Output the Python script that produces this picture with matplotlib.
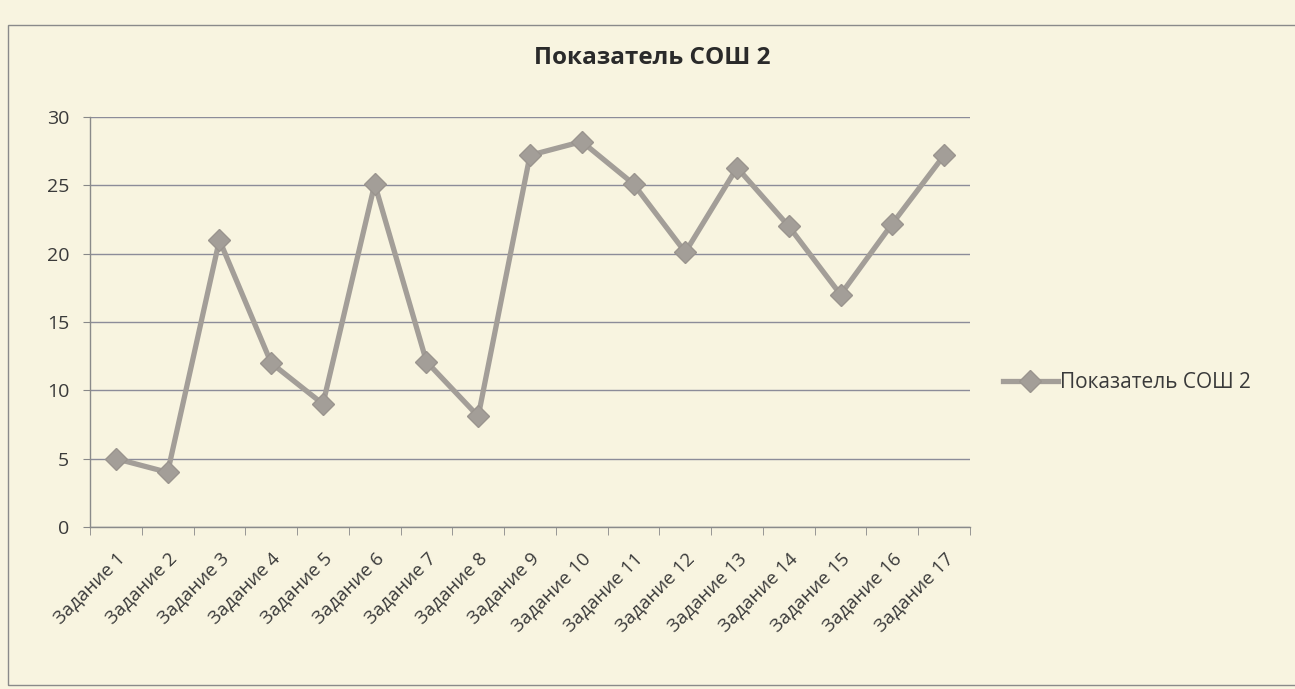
import matplotlib.pyplot as plt
from matplotlib.patches import Rectangle

# Data
tasks = ['Задание ' + str(i) for i in range(1, 18)]
scores = [5, 4, 21, 12, 9, 25.1, 12.1, 8.1, 27.2, 28.2, 25.1, 20.1, 26.3, 22, 17, 22.2, 27.2]
yticks = [0, 5, 10, 15, 20, 25, 30]

title = 'Показатель СОШ 2'
bg = '#f8f4e0'
line_col = '#a39e98'
grid_col = '#8c8c99'
text_col = '#3a3a3a'

plt.rcParams['font.family'] = ['Open Sans', 'DejaVu Sans']

fig = plt.figure(figsize=(12.95, 6.89), dpi=100, facecolor=bg)
ax = fig.add_axes([90 / 1295, 1 - 527 / 689, 880 / 1295, 410 / 689])
ax.set_facecolor(bg)

x = list(range(len(tasks)))
ax.plot(x, scores, color=line_col, lw=3.8, marker='D', markersize=11,
        markerfacecolor=line_col, markeredgecolor='#9a948e', label=title)

ax.set_xlim(-0.5, len(tasks) - 0.5)
ax.set_ylim(0, 30)
ax.set_yticks(yticks)
ax.set_xticks(x)
ax.set_xticklabels(tasks, rotation=45, ha='right', rotation_mode='anchor',
                   fontsize=13.5, color=text_col)
ax.set_xticks([i - 0.5 for i in range(len(tasks) + 1)], minor=True)
ax.tick_params(axis='x', which='major', length=0, pad=16)
ax.tick_params(axis='x', which='minor', length=6, color='#888888', direction='out')
ax.tick_params(axis='y', length=5, color='#888888', labelsize=14,
               labelcolor=text_col, pad=10)

ax.grid(axis='y', color=grid_col, lw=1.0)
ax.set_axisbelow(True)
for s in ['top', 'right']:
    ax.spines[s].set_visible(False)
for s in ['left', 'bottom']:
    ax.spines[s].set_color('#8a8a8a')
    ax.spines[s].set_linewidth(1.0)

fig.text(652 / 1295, 1 - 58 / 689, title, ha='center', va='center',
         fontsize=17.5, fontweight='bold', color='#2a2a2a')

fig.legend(loc='center left', bbox_to_anchor=(995 / 1295, 1 - 383 / 689),
           frameon=False, fontsize=15, handlelength=2.6, labelcolor=text_col,
           handletextpad=0.1, borderaxespad=0)

# chart frame
fig.patches.append(Rectangle((8 / 1295, 4 / 689), 1.0, 1 - 29 / 689,
                             transform=fig.transFigure, fill=False,
                             edgecolor='#8a8a8a', lw=1.0))

fig.savefig('out.png', dpi=100, facecolor=bg)
